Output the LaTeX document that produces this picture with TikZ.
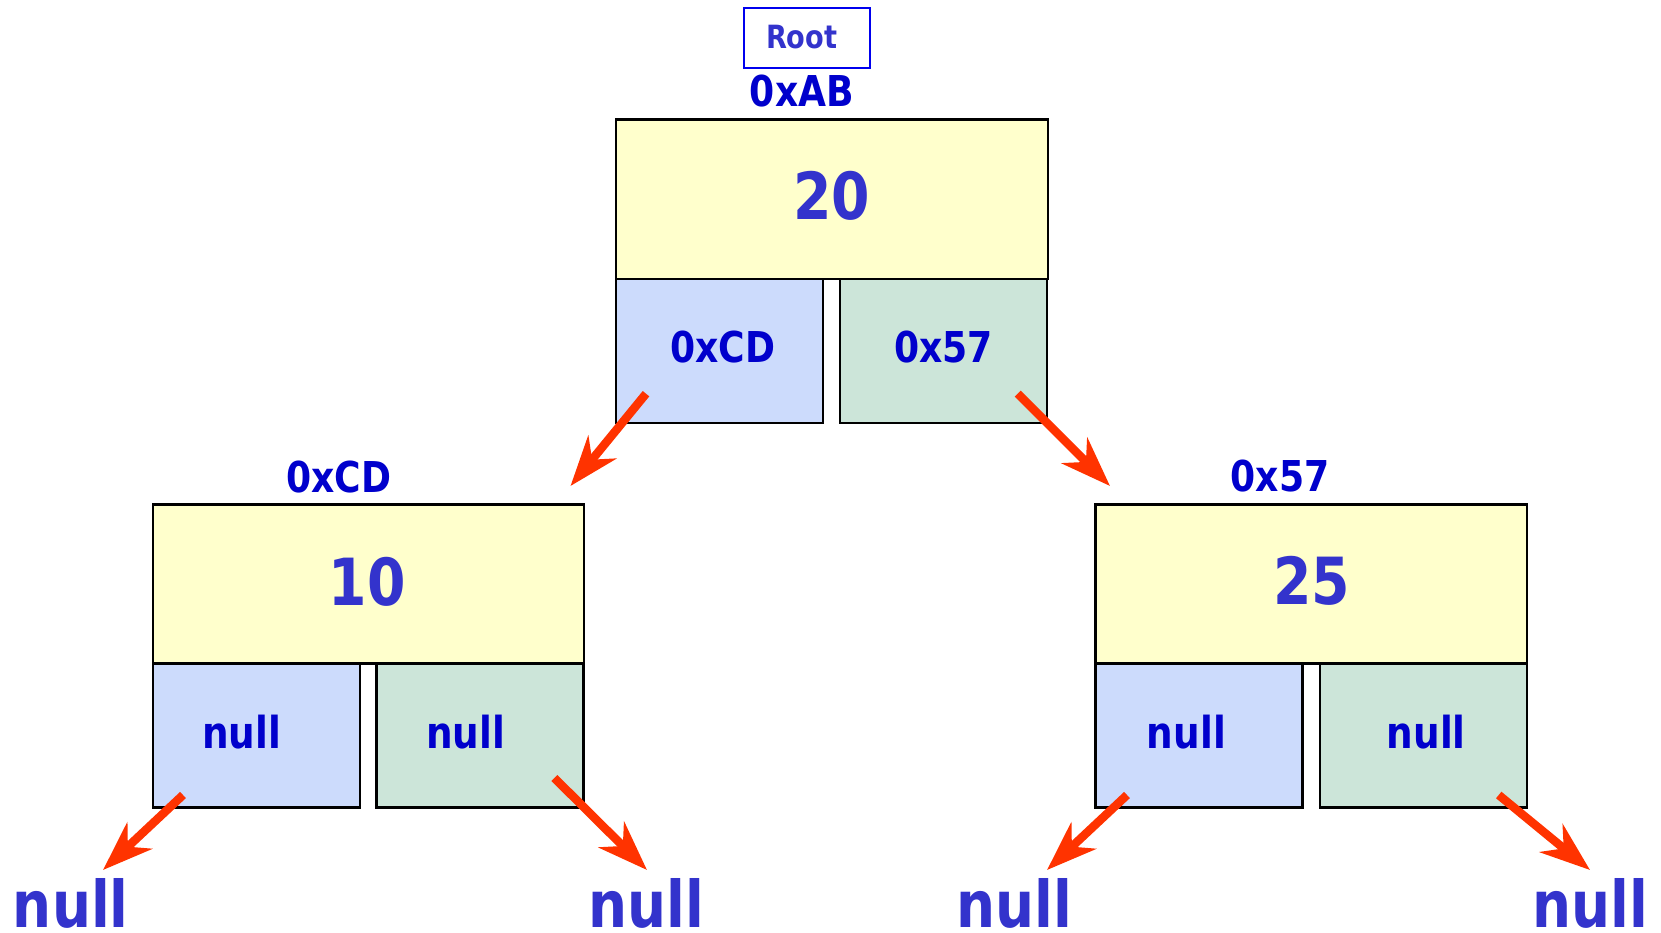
\documentclass[tikz,border=0pt]{standalone}
\usepackage{fontspec}
\setmainfont{DejaVu Sans}[FakeStretch=0.85]
\usetikzlibrary{arrows.meta}

\definecolor{ink}{HTML}{3333CC}
\definecolor{addr}{HTML}{0000CC}
\definecolor{valfill}{HTML}{FFFFCC}
\definecolor{leftfill}{HTML}{CCDBFC}
\definecolor{rightfill}{HTML}{CCE5D9}
\definecolor{ptrred}{HTML}{FF3300}
\definecolor{rootblue}{HTML}{0000EE}

\tikzset{
  cell/.style={draw=black, line width=2.5pt, rectangle, inner sep=0pt, anchor=north west},
  valcell/.style={cell, fill=valfill, minimum width=431pt, minimum height=159pt},
  lcell/.style={cell, fill=leftfill, minimum width=207pt, minimum height=144pt},
  rcell/.style={cell, fill=rightfill, minimum width=207pt, minimum height=144pt},
  txt/.style={inner sep=0pt, anchor=base, font=\bfseries},
  bignum/.style={txt, text=ink, font=\bfseries\fontsize{65}{65}\selectfont},
  addrtxt/.style={txt, text=addr, font=\bfseries\fontsize{42.5}{42.5}\selectfont},
  ptrtxt/.style={txt, text=addr, font=\bfseries\fontsize{44}{44}\selectfont},
  nulltxt/.style={txt, text=ink, font=\bfseries\fontsize{64.5}{64.5}\selectfont},
  ptr/.style={draw=ptrred, line width=8.5pt,
    -{Stealth[length=50pt, width=36pt, inset=16pt, fill=ptrred]}},
}

\begin{document}
\begin{tikzpicture}[x=1pt, y=-1pt]
\useasboundingbox (0,0) rectangle (1661,933);

% root pointer label
\node[draw=rootblue, line width=2pt, rectangle, inner sep=0pt,
      minimum width=126pt, minimum height=60pt, anchor=north west] (rootbox) at (742.7,6.7) {};
\node[txt, text=ink, font=\bfseries\fontsize{32}{32}\selectfont] (roottxt) at (801.7,48.3) {Root};

% node 20 at 0xAB
\node[addrtxt] (addrAB) at (801.9,106.7) {0xAB};
\node[valcell, minimum width=432pt] (rootval) at (614.5,118.5) {};
\node[lcell, minimum width=207.4pt] (rootl) at (614.5,277.7) {};
\node[rcell] (rootr) at (838.7,277.7) {};
\node[bignum] (v20) at (831.5,220) {20};
\node[addrtxt] (pCD) at (722.7,362.7) {0xCD};
\node[addrtxt] (p57) at (943.7,362.7) {0x57};

% node 10 at 0xCD
\node[addrtxt] (addrCD) at (338.6,492.4) {0xCD};
\node[valcell] (lval) at (151.5,503) {};
\node[lcell] (ll) at (151.5,662) {};
\node[rcell] (lr) at (375.2,662) {};
\node[bignum] (v10) at (367,605) {10};
\node[ptrtxt] (llnull) at (241.7,748.3) {null};
\node[ptrtxt] (lrnull) at (465.7,748.3) {null};

% node 25 at 0x57
\node[addrtxt] (addr57) at (1280,491.5) {0x57};
\node[valcell, minimum width=431.5pt] (rval) at (1094.3,503) {};
\node[lcell] (rl) at (1094.3,662) {};
\node[rcell] (rr) at (1318.5,662) {};
\node[bignum] (v25) at (1311.7,604.5) {25};
\node[ptrtxt] (rlnull) at (1186.4,748.3) {null};
\node[ptrtxt] (rrnull) at (1426.3,748.3) {null};

% terminal nulls
\node[nulltxt] (n1) at (70.8,927.5) {null};
\node[nulltxt] (n2) at (646.7,927.5) {null};
\node[nulltxt] (n3) at (1014.7,927.5) {null};
\node[nulltxt] (n4) at (1590.7,927.5) {null};

% pointer ends
\coordinate (aS) at ([shift={(31.5,-30.5)}]rootl.south west);
\coordinate (aT) at ([shift={(-14.5,-17)}]lval.north east);
\coordinate (bS) at ([shift={(-30.5,-30.5)}]rootr.south east);
\coordinate (bT) at ([shift={(15.7,-17)}]rval.north west);
\coordinate (cS) at ([shift={(31.5,-13.5)}]ll.south west);
\coordinate (cT) at (103,870);
\coordinate (dS) at ([shift={(-30.3,-30.5)}]lr.south east);
\coordinate (dT) at (647,870);
\coordinate (eS) at ([shift={(32.7,-13.5)}]rl.south west);
\coordinate (eT) at (1047,870);
\coordinate (fS) at ([shift={(-29.3,-13.5)}]rr.south east);
\coordinate (fT) at (1590,870);

\draw[ptr] (aS) -- (aT);
\draw[ptr] (bS) -- (bT);
\draw[ptr] (cS) -- (cT);
\draw[ptr] (dS) -- (dT);
\draw[ptr] (eS) -- (eT);
\draw[ptr] (fS) -- (fT);
\end{tikzpicture}
\end{document}
